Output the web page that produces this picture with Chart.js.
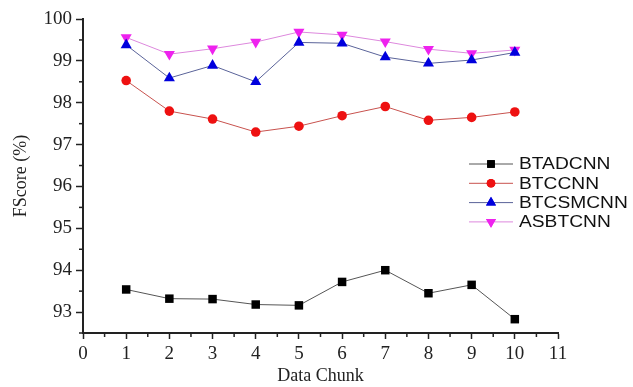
<!DOCTYPE html>
<html>
<head>
<meta charset="utf-8">
<script src="https://cdn.jsdelivr.net/npm/chart.js@4"></script>
<style>
  body { margin: 0; background: #fff; }
  #wrap { width: 633px; height: 387px; }
</style>
</head>
<body>
<div id="wrap"><canvas id="myChart"></canvas></div>
<script>
var chunks = [1, 2, 3, 4, 5, 6, 7, 8, 9, 10];
var btadcnn = [93.54, 93.32, 93.31, 93.18, 93.16, 93.72, 94.0, 93.45, 93.65, 92.83];
var btccnn = [98.53, 97.80, 97.61, 97.30, 97.44, 97.69, 97.91, 97.58, 97.65, 97.78];
var btcsmcnn = [99.38, 98.59, 98.89, 98.50, 99.44, 99.42, 99.09, 98.94, 99.02, 99.20];
var asbtcnn = [99.56, 99.16, 99.29, 99.45, 99.69, 99.62, 99.46, 99.28, 99.18, 99.26];

function pts(vals) {
    return chunks.map(function (c, i) { return { x: c, y: vals[i] }; });
}

var majorOnly = function (ctx) {
    return Number.isInteger(ctx.tick.value) ? '#222' : 'rgba(0,0,0,0)';
};

// short minor ticks + legend inside the plot
var extras = {
    id: 'extras',
    afterDraw: function (chart) {
        var c = chart.ctx;
        var xs = chart.scales.x, ys = chart.scales.y;
        c.save();
        c.strokeStyle = '#222';
        c.lineWidth = 1.5;
        xs.ticks.forEach(function (t) {
            if (!Number.isInteger(t.value)) {
                var px = xs.getPixelForValue(t.value);
                c.beginPath(); c.moveTo(px, xs.top); c.lineTo(px, xs.top + 4); c.stroke();
            }
        });
        ys.ticks.forEach(function (t) {
            if (!Number.isInteger(t.value)) {
                var py = ys.getPixelForValue(t.value);
                c.beginPath(); c.moveTo(ys.right, py); c.lineTo(ys.right - 4, py); c.stroke();
            }
        });
        // legend
        var lx = 469, ly = 164, rowH = 19.3;
        chart.data.datasets.forEach(function (ds, i) {
            var y = ly + i * rowH;
            c.strokeStyle = ds.borderColor;
            c.lineWidth = 1;
            c.beginPath(); c.moveTo(lx, y); c.lineTo(lx + 44, y); c.stroke();
            c.fillStyle = ds.pointBackgroundColor;
            Chart.helpers.drawPoint(c, {
                pointStyle: ds.pointStyle,
                rotation: ds.pointRotation || 0,
                radius: ds.pointRadius * 0.9,
                borderWidth: 0
            }, lx + 22, y);
            c.fill();
            c.save();
            c.translate(lx + 50, y);
            c.scale(1.2, 1);
            c.fillStyle = '#111';
            c.font = '16px "Liberation Sans", Arial, sans-serif';
            c.textBaseline = 'middle';
            c.fillText(ds.label, 0, 1);
            c.restore();
        });
        c.restore();
    }
};

var ctx = document.getElementById('myChart');
var myChart = new Chart(ctx, {
    type: 'line',
    data: {
        datasets: [{
            label: 'BTADCNN',
            data: pts(btadcnn),
            borderColor: '#555555',
            borderWidth: 1,
            pointStyle: 'rect',
            pointRadius: 6,
            pointBackgroundColor: '#000000',
            pointBorderWidth: 0
        }, {
            label: 'BTCCNN',
            data: pts(btccnn),
            borderColor: '#c8524e',
            borderWidth: 1,
            pointStyle: 'circle',
            pointRadius: 4.8,
            pointBackgroundColor: '#ee1111',
            pointBorderWidth: 0
        }, {
            label: 'BTCSMCNN',
            data: pts(btcsmcnn),
            borderColor: '#5a6399',
            borderWidth: 1,
            pointStyle: 'triangle',
            pointRadius: 6.4,
            pointBackgroundColor: '#0000dd',
            pointBorderWidth: 0
        }, {
            label: 'ASBTCNN',
            data: pts(asbtcnn),
            borderColor: '#dd88dd',
            borderWidth: 1,
            pointStyle: 'triangle',
            pointRotation: 180,
            pointRadius: 6.4,
            pointBackgroundColor: '#ee22ee',
            pointBorderWidth: 0
        }]
    },
    options: {
        responsive: true,
        maintainAspectRatio: false,
        animation: false,
        layout: { padding: { top: 19, right: 75, left: 10, bottom: 0 } },
        scales: {
            x: {
                type: 'linear',
                min: 0,
                max: 11,
                border: { color: '#222', width: 2 },
                grid: { drawOnChartArea: false, tickLength: 6, tickColor: majorOnly, tickWidth: 1.5 },
                ticks: {
                    stepSize: 0.5,
                    autoSkip: false,
                    maxRotation: 0,
                    color: '#222',
                    padding: 4,
                    font: { family: '"Liberation Serif", "Times New Roman", serif', size: 19 },
                    callback: function (v) { return Number.isInteger(v) ? v : ''; }
                },
                title: {
                    display: true,
                    text: 'Data Chunk',
                    color: '#222',
                    font: { family: '"Liberation Serif", "Times New Roman", serif', size: 18 },
                    padding: { top: 11, bottom: 0 }
                },
                afterFit: function (s) { s.height = 54; }
            },
            y: {
                min: 92.5,
                max: 100,
                border: { color: '#222', width: 2 },
                grid: { drawOnChartArea: false, tickLength: 7, tickColor: majorOnly, tickWidth: 1.5 },
                ticks: {
                    stepSize: 0.5,
                    autoSkip: false,
                    color: '#222',
                    padding: 4,
                    font: { family: '"Liberation Serif", "Times New Roman", serif', size: 19 },
                    callback: function (v) { return Number.isInteger(v) ? v : ''; }
                },
                title: {
                    display: true,
                    text: 'FScore (%)',
                    color: '#222',
                    font: { family: '"Liberation Serif", "Times New Roman", serif', size: 18 },
                    padding: { top: 0, bottom: 8 }
                },
                afterFit: function (s) { s.width = 73; }
            }
        },
        plugins: {
            legend: { display: false },
            tooltip: { enabled: false }
        }
    },
    plugins: [extras]
});
</script>
</body>
</html>
